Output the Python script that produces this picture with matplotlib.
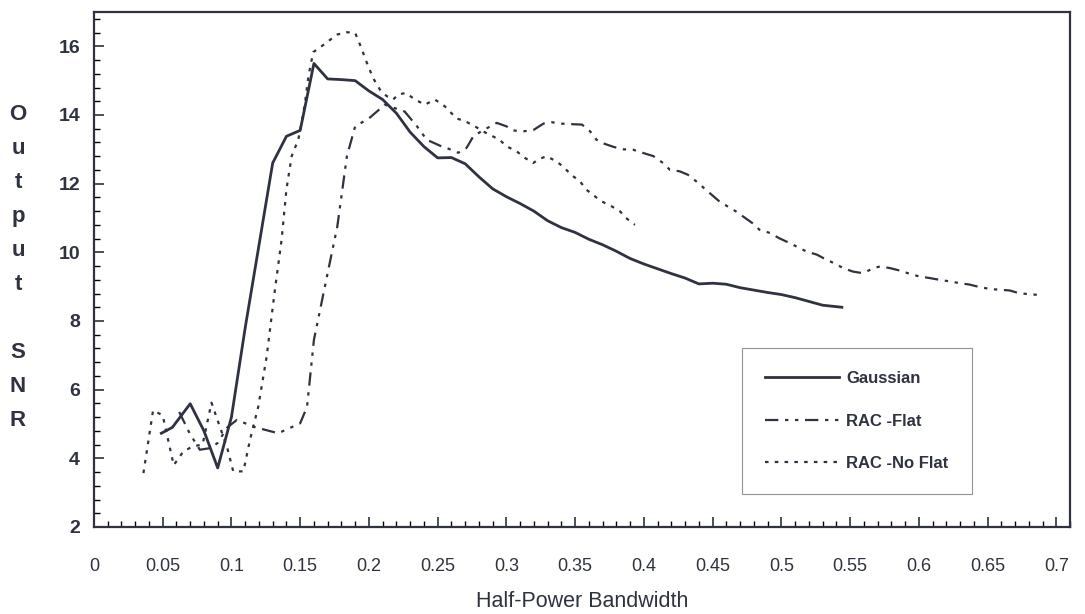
import matplotlib
matplotlib.use("Agg")
import matplotlib.pyplot as plt
from matplotlib.ticker import MultipleLocator

# Gaussian (solid)
gauss_x = [0.049, 0.057, 0.07, 0.08, 0.09, 0.10, 0.11, 0.12, 0.13, 0.14, 0.15, 0.16, 0.17,
           0.18, 0.19, 0.20, 0.21, 0.22, 0.23, 0.24, 0.25, 0.26, 0.27, 0.28, 0.29, 0.30,
           0.31, 0.32, 0.33, 0.34, 0.35, 0.36, 0.37, 0.38, 0.39, 0.40, 0.41, 0.42, 0.43,
           0.44, 0.45, 0.46, 0.47, 0.48, 0.49, 0.50, 0.51, 0.52, 0.53, 0.544]
gauss_y = [4.73, 4.9, 5.59, 4.8, 3.72, 5.2, 7.8, 10.2, 12.6, 13.38, 13.55, 15.5, 15.05,
           15.03, 15.0, 14.7, 14.45, 14.05, 13.5, 13.08, 12.75, 12.76, 12.58, 12.2, 11.85, 11.62,
           11.42, 11.2, 10.92, 10.72, 10.58, 10.38, 10.22, 10.03, 9.82, 9.66, 9.52, 9.38, 9.25,
           9.08, 9.1, 9.07, 8.97, 8.9, 8.83, 8.77, 8.68, 8.57, 8.46, 8.4]

# RAC -Flat (dash-dot)
flat_x = [0.062, 0.07, 0.077, 0.085, 0.09, 0.097, 0.104, 0.116, 0.134, 0.15, 0.155, 0.16,
          0.17, 0.177, 0.184, 0.19, 0.20, 0.2116, 0.226, 0.235, 0.242, 0.252, 0.259, 0.265,
          0.271, 0.276, 0.282, 0.293, 0.30, 0.305, 0.312, 0.32, 0.327, 0.333, 0.339, 0.349,
          0.355, 0.361, 0.3655, 0.37, 0.378, 0.385, 0.392, 0.399, 0.407, 0.414, 0.419, 0.426,
          0.432, 0.438, 0.455, 0.467, 0.479, 0.484, 0.492, 0.498, 0.506, 0.511, 0.518, 0.526,
          0.533, 0.538, 0.545, 0.552, 0.558, 0.562, 0.567, 0.572, 0.579, 0.586, 0.593, 0.60,
          0.608, 0.615, 0.623, 0.63, 0.637, 0.644, 0.652, 0.659, 0.666, 0.673, 0.68, 0.687]
flat_y = [5.35, 4.7, 4.25, 4.3, 4.45, 4.9, 5.12, 4.92, 4.73, 5.02, 5.5, 7.45,
          9.4, 10.75, 12.8, 13.67, 13.9, 14.3, 14.1, 13.67, 13.28, 13.1, 13.0, 12.9,
          13.04, 13.38, 13.53, 13.77, 13.67, 13.55, 13.52, 13.57, 13.75, 13.79, 13.75, 13.73,
          13.72, 13.52, 13.28, 13.18, 13.07, 13.0, 12.99, 12.9, 12.8, 12.6, 12.4, 12.36,
          12.26, 12.07, 11.48, 11.19, 10.85, 10.66, 10.56, 10.42, 10.27, 10.17, 10.03, 9.93,
          9.78, 9.69, 9.54, 9.44, 9.4, 9.44, 9.54, 9.59, 9.54, 9.47, 9.38, 9.3,
          9.25, 9.2, 9.15, 9.1, 9.06, 8.99, 8.93, 8.91, 8.89, 8.81, 8.78, 8.76]

# RAC -No Flat (dotted)
noflat_x = [0.036, 0.043, 0.05, 0.058, 0.065, 0.072, 0.079, 0.0855, 0.09, 0.097, 0.1013,
            0.1087, 0.1135, 0.1195, 0.1256, 0.1316, 0.1365, 0.14, 0.1438, 0.1486, 0.151,
            0.1535, 0.156, 0.1595, 0.169, 0.1765, 0.184, 0.19, 0.194, 0.1985, 0.203, 0.208,
            0.2129, 0.2177, 0.2213, 0.227, 0.2335, 0.2407, 0.248, 0.2553, 0.2637, 0.27,
            0.277, 0.2855, 0.295, 0.30, 0.3075, 0.3135, 0.3195, 0.3232, 0.329, 0.3365,
            0.3425, 0.347, 0.3535, 0.358, 0.3644, 0.369, 0.3765, 0.3825, 0.387, 0.3935]
noflat_y = [3.57, 5.4, 5.25, 3.8, 4.2, 4.35, 4.4, 5.62, 5.1, 4.3, 3.62,
            3.62, 4.54, 5.5, 6.96, 8.9, 10.37, 11.83, 12.8, 13.28, 13.77,
            14.35, 15.13, 15.83, 16.1, 16.34, 16.41, 16.39, 16.0, 15.52, 15.08, 14.74,
            14.55, 14.45, 14.6, 14.64, 14.45, 14.3, 14.45, 14.25, 13.9, 13.82,
            13.67, 13.47, 13.28, 13.09, 12.94, 12.75, 12.6, 12.7, 12.8, 12.65,
            12.45, 12.26, 12.07, 11.83, 11.63, 11.49, 11.34, 11.2, 11.0, 10.8]

x_ticks = [0, 0.05, 0.1, 0.15, 0.2, 0.25, 0.3, 0.35, 0.4, 0.45, 0.5, 0.55, 0.6, 0.65, 0.7]
x_labels = ["0", "0.05", "0.1", "0.15", "0.2", "0.25", "0.3", "0.35", "0.4", "0.45",
            "0.5", "0.55", "0.6", "0.65", "0.7"]
y_ticks = [2, 4, 6, 8, 10, 12, 14, 16]

ink = "#2f3240"
plt.rcParams["font.family"] = ["Liberation Sans", "DejaVu Sans"]

fig = plt.figure(figsize=(10.85, 6.14), dpi=100)
ax = fig.add_axes([0.0866, 0.1417, 0.8996, 0.8388])

ax.plot(gauss_x, gauss_y, color=ink, lw=2.0, label="Gaussian")
ax.plot(flat_x, flat_y, color=ink, lw=1.6, linestyle=(0, (6, 3, 1.5, 3, 1.5, 3)),
        label="RAC -Flat")
ax.plot(noflat_x, noflat_y, color=ink, lw=1.6, linestyle=(0, (1.6, 2.8)),
        label="RAC -No Flat")

ax.set_xlim(0, 0.71)
ax.set_ylim(2, 17)
ax.set_xticks(x_ticks)
ax.set_xticklabels(x_labels, fontsize=13, color=ink)
ax.set_yticks(y_ticks)
ax.set_yticklabels([str(v) for v in y_ticks], fontsize=14, fontweight="bold", color=ink)
ax.xaxis.set_minor_locator(MultipleLocator(0.01))
ax.yaxis.set_minor_locator(MultipleLocator(0.4))
ax.tick_params(axis="x", which="major", direction="in", length=7, width=1.2, pad=22,
               colors=ink, top=False)
ax.tick_params(axis="x", which="minor", direction="in", length=4, width=1.0, top=False)
ax.tick_params(axis="y", which="major", direction="in", length=7, width=1.2, pad=10,
               colors=ink, right=False)
ax.tick_params(axis="y", which="minor", direction="in", length=4, width=1.0, right=False)
for s in ax.spines.values():
    s.set_color(ink)
    s.set_linewidth(1.6)

ax.set_xlabel("Half-Power Bandwidth", fontsize=15.5, color=ink, labelpad=12)

# vertical stacked y label
letters = "Output SNR"
y0 = 1 - 115 / 614
for i, ch in enumerate(letters):
    fig.text(18 / 1085, y0 - i * 34 / 614, ch, ha="center", va="center",
             fontsize=16, fontweight="bold", color=ink)

leg = ax.legend(loc="upper left", bbox_to_anchor=(0.664, 0.348), frameon=True,
                fancybox=False, edgecolor="#777777", handlelength=4.4,
                labelspacing=1.65, borderpad=1.4, handletextpad=0.45,
                borderaxespad=0, prop={"size": 12, "weight": "bold"})
leg.get_frame().set_linewidth(0.8)
for t in leg.get_texts():
    t.set_color(ink)

fig.savefig("out.png", dpi=100)
